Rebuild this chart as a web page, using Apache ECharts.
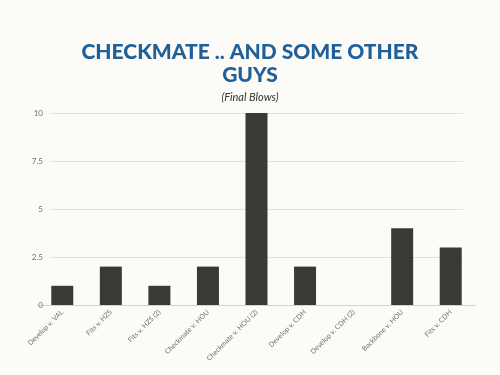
<!DOCTYPE html>
<html><head><meta charset="utf-8">
<script src="https://cdn.jsdelivr.net/npm/echarts@6/dist/echarts.min.js"></script>
<style>html,body{margin:0;padding:0;background:#fdfbf7;}#c{width:500px;height:375px;}</style>
</head><body><div id="c"></div>
<script>
const categories = ["Develop v. VAL","Fits v. HZS","Fits v. HZS (2)","Checkmate v. HOU","Checkmate v. HOU (2)","Develop v. CDH","Develop v. CDH (2)","Backbone v. HOU","Fits v. CDH"];
const finalBlows = [1,2,1,2,10,2,0,4,3];
const yTicks = [0,2.5,5,7.5,10];
const titleText = "CHECKMATE .. AND SOME OTHER\nGUYS";
const subtitleText = "(Final Blows)";

const chart = echarts.init(document.getElementById('c'), null, {renderer:'canvas'});
chart.setOption({
  backgroundColor:'#fdfbf7',
  animation:false,
  title:[{
    text:titleText, left:'center', top:36,
    textStyle:{fontFamily:'Lato', fontWeight:900, fontSize:21, color:'#1f5f9a', lineHeight:23}
  },{
    text:subtitleText, left:'center', top:87,
    textStyle:{fontFamily:'Lato', fontStyle:'italic', fontWeight:'normal', fontSize:11, color:'#333'}
  }],
  grid:[
    {left:38, right:25, top:113, bottom:70},
    {left:51, right:37, top:113, bottom:70}
  ],
  xAxis:[
    {type:'category', gridIndex:0, data:categories,
     axisTick:{show:false}, axisLine:{show:true, lineStyle:{color:'#d4d2ce', width:1}},
     axisLabel:{rotate:45, fontSize:7, color:'#707070', fontFamily:'Lato', margin:6, interval:0}},
    {type:'category', gridIndex:1, data:categories, show:false}
  ],
  yAxis:[
    {type:'value', gridIndex:0, min:0, max:10, interval:2.5, show:false, splitLine:{show:false}},
    {type:'value', gridIndex:1, min:0, max:10, interval:2.5,
     axisLine:{show:false}, axisTick:{show:false},
     splitLine:{show:true, lineStyle:{color:'#e2e0dc', width:1}},
     axisLabel:{fontSize:8, color:'#707070', fontFamily:'Lato', margin:8,
       formatter:v=> yTicks.includes(v) ? String(v) : ''}}
  ],
  series:[
    {type:'bar', xAxisIndex:1, yAxisIndex:1, data:[], silent:true},
    {type:'bar', xAxisIndex:0, yAxisIndex:0, data:finalBlows, barWidth:22,
     itemStyle:{color:'#3a3938'}, z:3}
  ]
});
</script></body></html>
